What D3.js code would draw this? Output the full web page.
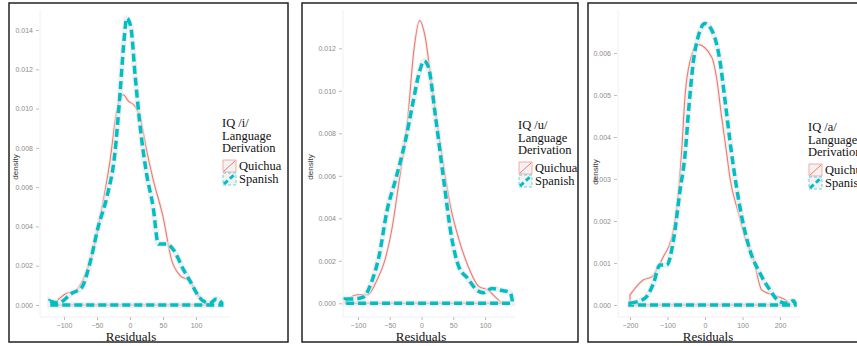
<!DOCTYPE html>
<html>
<head>
<meta charset="utf-8">
<script src="https://cdn.jsdelivr.net/npm/d3@7"></script>
<style>
  body { margin: 0; background: #fff; }
  svg { display: block; }
  .tick text { fill: #8c8c8c; font-family: "Liberation Sans", Arial, sans-serif; font-size: 7px; }
  .tick line { stroke: #bdbdbd; }
</style>
</head>
<body>
<div id="chart"></div>
<script>
// density curves, one pair of arrays per series and panel
var seriesNames = ["Quichua", "Spanish"];
var panelTitles = ["IQ /i/", "IQ /u/", "IQ /a/"];

var iQuichuaX = [-114, -96, -83, -71, -58, -45, -30, -20, -10, -3, 8, 15, 25, 35, 50, 63, 76, 91, 103, 116, 126];
var iQuichuaY = [0.0001, 0.0006, 0.0007, 0.0013, 0.0025, 0.0045, 0.0074, 0.0099, 0.0107, 0.0104, 0.0101, 0.0096, 0.0079, 0.0064, 0.0045, 0.0023, 0.0015, 0.0012, 0.0005, 0.0001, 0];
var iSpanishX = [-121, -109, -88, -73, -61, -48, -35, -23, -15, -9, -5, 1, 8, 15, 25, 35, 43, 55, 66, 81, 93, 101, 111, 121, 131, 139];
var iSpanishY = [0.0002, 0.0001, 0.0006, 0.0009, 0.0021, 0.0040, 0.0055, 0.0077, 0.0108, 0.0135, 0.0146, 0.0142, 0.0116, 0.0092, 0.0067, 0.0050, 0.0031, 0.0031, 0.0028, 0.0018, 0.0011, 0.0006, 0.0002, 0.0001, 0.0003, 0.0001];

var uQuichuaX = [-120, -101, -85, -70, -59, -46, -36, -22, -12, -3, 6, 17, 32, 46, 59, 74, 90, 106, 116, 127];
var uQuichuaY = [0.0001, 0.0004, 0.0004, 0.0011, 0.0019, 0.0036, 0.0056, 0.0086, 0.0119, 0.0133, 0.0125, 0.0100, 0.0070, 0.0045, 0.0030, 0.0017, 0.0008, 0.0006, 0.0003, 0];
var uSpanishX = [-120, -106, -91, -80, -67, -54, -41, -25, -15, -4, 4, 11, 22, 35, 48, 59, 72, 88, 98, 111, 127, 140, 143];
var uSpanishY = [0.0002, 0.0002, 0.0003, 0.0009, 0.0022, 0.0044, 0.0058, 0.0077, 0.0092, 0.0108, 0.0114, 0.0111, 0.0088, 0.0058, 0.0030, 0.0017, 0.0012, 0.0006, 0.0005, 0.0007, 0.0006, 0.0005, 0.0001];

var aQuichuaX = [-200, -164, -142, -111, -89, -75, -62, -53, -40, -18, 18, 31, 44, 58, 67, 89, 107, 129, 151, 182, 218, 227];
var aQuichuaY = [0.00024, 0.0006, 0.00067, 0.00115, 0.0016, 0.0023, 0.0037, 0.0050, 0.0058, 0.0062, 0.0059, 0.0054, 0.0045, 0.0036, 0.0030, 0.0022, 0.0016, 0.0011, 0.00036, 0.00024, 0.0001, 0];
var aSpanishX = [-200, -160, -138, -120, -102, -84, -67, -53, -44, -31, -18, 0, 22, 40, 53, 71, 98, 120, 147, 173, 196, 218, 236, 240];
var aSpanishY = [0.00004, 0.00016, 0.0005, 0.00095, 0.00095, 0.00155, 0.0027, 0.0036, 0.0046, 0.0058, 0.0064, 0.0067, 0.00647, 0.0058, 0.0049, 0.0036, 0.0021, 0.0013, 0.00075, 0.00036, 0.0001, 0.00004, 0.0001, 0.00005];

var iXTicks = [-100, -50, 0, 50, 100];
var uXTicks = [-100, -50, 0, 50, 100];
var aXTicks = [-200, -100, 0, 100, 200];
var iYTicks = [0, 0.002, 0.004, 0.006, 0.008, 0.010, 0.012, 0.014];
var uYTicks = [0, 0.002, 0.004, 0.006, 0.008, 0.010, 0.012];
var aYTicks = [0, 0.001, 0.002, 0.003, 0.004, 0.005, 0.006];

var colors = ["#F8766D", "#00BFC4"];

// panel layout (pixels)
var panels = [
  {box: [9, 3, 288, 342], xd: [-100, 100], xr: [64, 196], yd: [0, 0.014], yr: [305, 30], axisX: 39,
   plot: [42, 230], leg: [222, 127], dens: [15, 167], res: 131,
   title: panelTitles[0], xt: iXTicks, yt: iYTicks,
   data: [[iQuichuaX, iQuichuaY], [iSpanishX, iSpanishY]]},
  {box: [302, 3, 578, 342], xd: [-100, 100], xr: [358, 485], yd: [0, 0.012], yr: [303.3, 48.3], axisX: 342,
   plot: [343, 515], leg: [518, 129], dens: [310, 167], res: 421,
   title: panelTitles[1], xt: uXTicks, yt: uYTicks,
   data: [[uQuichuaX, uQuichuaY], [uSpanishX, uSpanishY]]},
  {box: [588, 3, 870, 342], xd: [-200, 200], xr: [630, 780], yd: [0, 0.006], yr: [305, 53], axisX: 617,
   plot: [618, 800], leg: [808, 131], dens: [595, 172], res: 708,
   title: panelTitles[2], xt: aXTicks, yt: aYTicks,
   data: [[aQuichuaX, aQuichuaY], [aSpanishX, aSpanishY]]}
];

var svg = d3.select("#chart").append("svg")
    .attr("width", 857)
    .attr("height", 346);

panels.forEach(function (p) {
  var g = svg.append("g");

  g.append("rect")
      .attr("x", p.box[0]).attr("y", p.box[1])
      .attr("width", p.box[2] - p.box[0]).attr("height", p.box[3] - p.box[1])
      .style("fill", "white")
      .style("stroke", "#222")
      .style("stroke-width", 1.5);

  var x = d3.scaleLinear().domain(p.xd).range(p.xr);
  var y = d3.scaleLinear().domain(p.yd).range(p.yr);

  // faint axis lines
  g.append("line")
      .attr("x1", p.axisX + 1).attr("x2", p.axisX + 1)
      .attr("y1", 10).attr("y2", 317)
      .style("stroke", "#f0f0f0");
  g.append("line")
      .attr("x1", p.axisX + 1).attr("x2", p.plot[1])
      .attr("y1", 317).attr("y2", 317)
      .style("stroke", "#f0f0f0");

  g.append("g")
      .attr("transform", "translate(" + p.axisX + ",0)")
      .call(d3.axisLeft(y).tickValues(p.yt).tickFormat(d3.format(".3f")).tickSize(3).tickPadding(3))
      .call(function (a) { a.select(".domain").remove(); });

  g.append("g")
      .attr("transform", "translate(0,317)")
      .call(d3.axisBottom(x).tickValues(p.xt).tickFormat(d3.format("d")).tickSize(3).tickPadding(3))
      .call(function (a) { a.select(".domain").remove(); });

  var line = d3.line()
      .x(function (d) { return x(d[0]); })
      .y(function (d) { return y(d[1]); })
      .curve(d3.curveMonotoneX);

  p.data.forEach(function (s, i) {
    var pts = s[0].map(function (v, k) { return [v, s[1][k]]; });
    // close the outline along the baseline like geom_density does
    var outline = pts.concat([[pts[pts.length - 1][0], 0], [pts[0][0], 0], pts[0]]);
    var path = line(pts) + "L" + x(pts[pts.length - 1][0]) + "," + y(0) + "L" + x(pts[0][0]) + "," + y(0) + "Z";

    g.append("path")
        .attr("d", path)
        .style("fill", "none")
        .style("stroke", "#e6e6e6")
        .style("stroke-width", i == 0 ? 3 : 6)
        .style("opacity", 0.6);

    g.append("path")
        .attr("d", path)
        .style("fill", "none")
        .style("stroke", colors[i])
        .style("stroke-width", i == 0 ? 1.1 : 3.5)
        .style("stroke-dasharray", i == 0 ? null : "8,4");
  });

  // axis titles
  g.append("text")
      .attr("transform", "translate(" + p.dens[0] + "," + p.dens[1] + ") rotate(-90)")
      .attr("text-anchor", "middle")
      .attr("dy", "0.35em")
      .style("font-family", "Liberation Sans, Arial, sans-serif")
      .style("font-size", "8px")
      .style("fill", "#333")
      .text("density");

  g.append("text")
      .attr("x", p.res)
      .attr("y", 341)
      .attr("text-anchor", "middle")
      .style("font-family", "Liberation Serif, Times New Roman, serif")
      .style("font-size", "13px")
      .style("fill", "#111")
      .text("Residuals");

  // legend
  var leg = g.append("g").attr("transform", "translate(" + p.leg[0] + "," + p.leg[1] + ")");
  ["", "Language", "Derivation"].forEach(function (t, k) {
    leg.append("text")
        .attr("x", 0)
        .attr("y", k * 12.5)
        .style("font-family", "Liberation Serif, Times New Roman, serif")
        .style("font-size", "12.5px")
        .style("fill", "#111")
        .text(k == 0 ? p.title : t);
  });

  seriesNames.forEach(function (name, i) {
    var ky = 33 + i * 13;
    leg.append("rect")
        .attr("x", 1).attr("y", ky)
        .attr("width", 13).attr("height", 12)
        .style("fill", "#f2f2f2")
        .style("stroke", colors[i])
        .style("stroke-width", 0.6)
        .style("stroke-dasharray", i == 0 ? null : "3,2");
    leg.append("line")
        .attr("x1", 2).attr("y1", ky + 11)
        .attr("x2", 13).attr("y2", ky + 1)
        .style("stroke", colors[i])
        .style("stroke-width", i == 0 ? 1 : 3)
        .style("stroke-dasharray", i == 0 ? null : "5,3");
    leg.append("text")
        .attr("x", 17)
        .attr("y", ky + 10)
        .style("font-family", "Liberation Serif, Times New Roman, serif")
        .style("font-size", "12.5px")
        .style("fill", "#111")
        .text(name);
  });
});
</script>
</body>
</html>
